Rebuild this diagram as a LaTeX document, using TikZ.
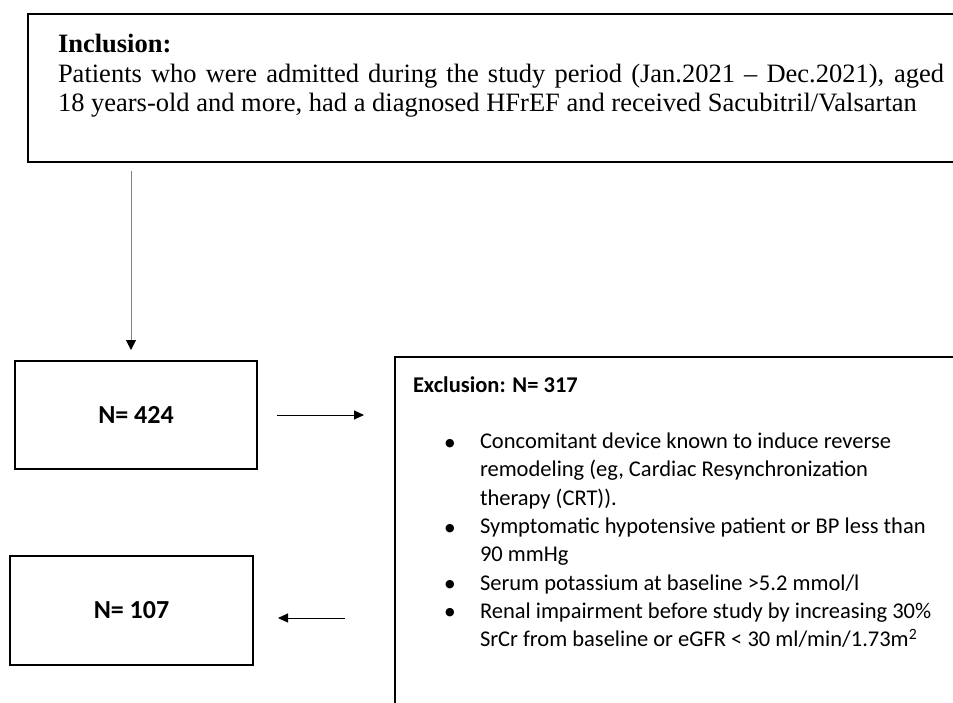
\documentclass[tikz,border=0pt]{standalone}
\usepackage{fontspec}
\setmainfont{Liberation Serif}
\newfontfamily\calibri{Carlito}
\newfontfamily\dejavu{DejaVu Sans}
\usepackage{tikz}
\usetikzlibrary{positioning,arrows.meta}

\begin{document}
\begin{tikzpicture}[
          x=1pt, y=-1pt,
          inclbox/.style={draw, line width=2pt, anchor=north west, inner xsep=30pt, inner ysep=0pt},
          exclbox/.style={draw, line width=2pt, anchor=north west, inner xsep=18pt, inner ysep=0pt},
          nbox/.style={draw, line width=2pt, minimum width=242pt, minimum height=108pt, font=\calibri\bfseries\fontsize{26pt}{30pt}\selectfont},
          arr/.style={-{Triangle[length=10pt, width=9pt]}, line width=1pt},
          varr/.style={-{Triangle[length=10pt, width=10pt, color=black]}, line width=1pt, gray}
      ]
        \useasboundingbox (0,0) rectangle (953,702);
        \clip (0,0) rectangle (953,702);
        \node[inclbox] (incl) at (27,12.7) {\parbox[c][148.3pt][t]{886pt}{\fontsize{26.5pt}{29.5pt}\selectfont
            \rule{0pt}{39pt}\textbf{Inclusion:}\newline
            Patients who were admitted during the study period (Jan.2021 -- Dec.2021), aged\linebreak
            18 years-old and more, had a diagnosed HFrEF and received Sacubitril/Valsartan}};
        \node[nbox] (n424) at (136,415) {N= 424\hspace{11pt}};
        \node[nbox, minimum width=243pt, minimum height=109pt] (n107) at (131.5,610.5) {N= 107\hspace{11pt}};
        \node[exclbox] (excl) at (394,356) {\parbox[c][420pt][t]{560pt}{\calibri\fontsize{22.5pt}{28.3pt}\selectfont\raggedright
            \rule{0pt}{35pt}\textbf{Exclusion: N= 317}\par
            \begin{list}{\makebox[0pt]{\raisebox{2.5pt}{\dejavu\fontsize{11pt}{11pt}\selectfont ●}}}{\setlength\leftmargin{67pt}\setlength\labelwidth{0pt}\setlength\labelsep{30pt}%
                \setlength\topsep{28.3pt}\setlength\partopsep{0pt}\setlength\itemsep{0pt}\setlength\parsep{0pt}}
            \item Concomitant device known to induce reverse\newline remodeling (eg, Cardiac Resynchronization\newline therapy (CRT)).
            \item Symptomatic hypotensive patient or BP less than\newline 90 mmHg
            \item Serum potassium at baseline >5.2 mmol/l
            \item Renal impairment before study by increasing 30\%\newline SrCr from baseline or eGFR < 30 ml/min/1.73m\textsuperscript{2}
            \end{list}}};
        \draw[varr, shorten <=8pt, shorten >=10pt] ([xshift=-5pt]incl.south -| n424.north) -- ([xshift=-5pt]n424.north);
        \draw[arr, shorten <=19pt, shorten >=30pt] (n424.east) -- (n424.east -| excl.west);
        \draw[arr, shorten <=49pt, shorten >=24pt] ([yshift=-7.5pt]n107.east -| excl.west) -- ([yshift=-7.5pt]n107.east);
      \end{tikzpicture}
\end{document}
